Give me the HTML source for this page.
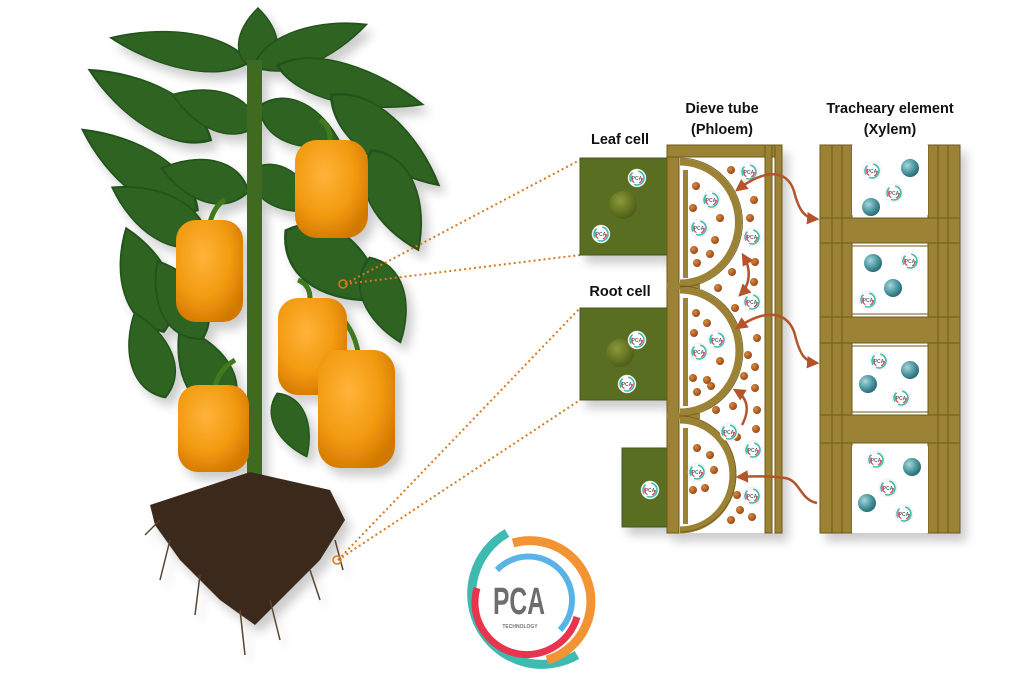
<!DOCTYPE html>
<html><head><meta charset="utf-8"><style>
body{margin:0;background:#fff}
svg{display:block}
text{font-family:"Liberation Sans",sans-serif}
</style></head><body>
<svg width="1024" height="683" viewBox="0 0 1024 683" xmlns="http://www.w3.org/2000/svg">
<defs>
<radialGradient id="pep" cx="40%" cy="35%" r="70%"><stop offset="0" stop-color="#ffb43a"/><stop offset="0.6" stop-color="#f29a10"/><stop offset="1" stop-color="#d17800"/></radialGradient>
<radialGradient id="sph" cx="35%" cy="35%" r="65%"><stop offset="0" stop-color="#a8d6da"/><stop offset="0.6" stop-color="#4f9aa3"/><stop offset="1" stop-color="#2f6e77"/></radialGradient>
<radialGradient id="dot" cx="35%" cy="35%" r="65%"><stop offset="0" stop-color="#d98a45"/><stop offset="1" stop-color="#9a4a12"/></radialGradient>
<radialGradient id="nuc" cx="40%" cy="35%" r="65%"><stop offset="0" stop-color="#8a9a3a"/><stop offset="1" stop-color="#4e5e16"/></radialGradient>
<path id="lf" d="M-1,0 C-0.6,-1.1 0.3,-0.9 1,0 C0.3,0.9 -0.6,1.1 -1,0z"/>
<g id="badge"><circle r="9" fill="#fff" stroke="#ddd" stroke-width="0.5"/><circle r="7" fill="none" stroke="#3fbab0" stroke-width="1.6" stroke-dasharray="14 4 10 6"/><circle r="5.3" fill="none" stroke="#e8384f" stroke-width="1.2" stroke-dasharray="6 5 8 20"/><text x="0" y="2" font-size="5" text-anchor="middle" fill="#666" font-weight="bold">PCA</text></g>
<marker id="ah" viewBox="0 0 10 10" refX="8" refY="5" markerWidth="5" markerHeight="5" orient="auto-start-reverse"><path d="M0,0 L10,5 L0,10 z" fill="#b5542a"/></marker>
<filter id="sh" x="-20%" y="-20%" width="140%" height="140%"><feGaussianBlur in="SourceAlpha" stdDeviation="5"/><feOffset dx="6" dy="8"/><feComponentTransfer><feFuncA type="linear" slope="0.2"/></feComponentTransfer><feMerge><feMergeNode/><feMergeNode in="SourceGraphic"/></feMerge></filter>
</defs>

<g filter="url(#sh)">
<g fill="#2d6320" stroke="#24521a" stroke-width="0.05">
<use href="#lf" transform="translate(180 50) rotate(-170) scale(70 24)"/>
<use href="#lf" transform="translate(150 105) rotate(-150) scale(70 28)"/>
<use href="#lf" transform="translate(140 170) rotate(-145) scale(70 30)"/>
<use href="#lf" transform="translate(160 215) rotate(-150) scale(55 30)"/>
<use href="#lf" transform="translate(145 280) rotate(-110) scale(55 32)"/>
<use href="#lf" transform="translate(150 355) rotate(-110) scale(45 28)"/>
<use href="#lf" transform="translate(205 370) rotate(-120) scale(50 32)"/>
<use href="#lf" transform="translate(258 40) rotate(-90) scale(32 26)"/>
<use href="#lf" transform="translate(310 45) rotate(-20) scale(60 24)"/>
<use href="#lf" transform="translate(350 85) rotate(15) scale(75 26)"/>
<use href="#lf" transform="translate(385 140) rotate(40) scale(70 30)"/>
<use href="#lf" transform="translate(395 200) rotate(65) scale(55 32)"/>
<use href="#lf" transform="translate(335 265) rotate(35) scale(60 40)"/>
<use href="#lf" transform="translate(385 300) rotate(70) scale(45 28)"/>
<use href="#lf" transform="translate(292 425) rotate(65) scale(35 22)"/>
<use href="#lf" transform="translate(215 110) rotate(-160) scale(45 26)"/>
<use href="#lf" transform="translate(300 125) rotate(25) scale(45 28)"/>
<use href="#lf" transform="translate(205 180) rotate(-165) scale(45 28)"/>
<use href="#lf" transform="translate(285 190) rotate(30) scale(40 26)"/>
<use href="#lf" transform="translate(180 300) rotate(-120) scale(45 30)"/>
</g>
<rect x="247" y="60" width="15" height="415" fill="#3f6b20"/>
<path d="M150,505 L250,472 L330,490 L345,520 L320,560 L290,590 L255,625 L220,600 L180,560 L155,525 z" fill="#3b2a1a"/>
<path d="M170,540 l-10,40 M200,575 l-5,40 M240,610 l5,45 M270,600 l10,40 M310,570 l10,30 M335,540 l8,30 M160,520 l-15,15" stroke="#5a4530" stroke-width="1.5" fill="none"/>
<g stroke="#3f7a1f" stroke-width="5" fill="none"><path d="M330,140 Q330,125 320,120"/><path d="M210,222 Q215,205 225,200"/><path d="M310,298 Q310,285 298,280"/><path d="M215,388 Q218,370 235,360"/><path d="M358,352 Q355,335 345,322"/></g>
<g fill="url(#pep)">
<rect x="295" y="140" width="73" height="98" rx="22"/>
<rect x="176" y="220" width="67" height="102" rx="20"/>
<rect x="278" y="298" width="69" height="97" rx="20"/>
<rect x="178" y="385" width="71" height="87" rx="20"/>
<rect x="318" y="350" width="77" height="118" rx="22"/>
</g>
</g>

<g stroke="#d9781c" stroke-width="2" stroke-dasharray="2 3" fill="none">
<line x1="345" y1="284" x2="580" y2="160"/>
<line x1="345" y1="284" x2="580" y2="255"/>
<line x1="338" y1="560" x2="580" y2="308"/>
<line x1="338" y1="560" x2="580" y2="400"/>
</g>
<circle cx="343" cy="284" r="4" fill="none" stroke="#d9781c" stroke-width="1.5"/>
<circle cx="337" cy="560" r="4" fill="none" stroke="#d9781c" stroke-width="1.5"/>

<g font-weight="bold" font-size="14.5" fill="#111" text-anchor="middle">
<text x="620" y="144">Leaf cell</text>
<text x="620" y="296">Root cell</text>
<text x="722" y="113">Dieve tube</text>
<text x="722" y="134">(Phloem)</text>
<text x="890" y="113">Tracheary element</text>
<text x="890" y="134">(Xylem)</text>
</g>

<g filter="url(#sh)">
<g fill="#5a6e20" stroke="#46571a" stroke-width="1">
<rect x="580" y="158" width="87" height="97"/>
<rect x="580" y="308" width="87" height="92"/>
<rect x="622" y="448" width="45" height="79"/>
</g>
<circle cx="623" cy="205" r="14" fill="url(#nuc)"/>
<circle cx="620" cy="353" r="14" fill="url(#nuc)"/>

<rect x="667" y="145" width="115" height="388" fill="#fff"/>
<g fill="#9b8236" stroke="#6e5a1e" stroke-width="1">
<rect x="667" y="145" width="12" height="388"/>
<rect x="667" y="145" width="115" height="12"/>
<rect x="765" y="145" width="7" height="388"/>
<rect x="775" y="145" width="7" height="388"/>
</g>
<g fill="none" stroke="#9b8236" stroke-width="7">
<path d="M680,162 A58,60 0 0 1 680,283"/>
<path d="M680,290 A58,60 0 0 1 680,412"/>
<path d="M680,420 A52,54 0 0 1 680,530"/>
<path d="M667,286 H700 M667,416 H700" stroke-width="6"/>
</g>
<g fill="none" stroke="#6e5a1e" stroke-width="0.8">
<path d="M680,158 A62,64 0 0 1 680,287"/>
<path d="M680,286 A62,64 0 0 1 680,416"/>
<path d="M680,416 A56,58 0 0 1 680,532"/>
</g>
<rect x="683" y="170" width="5" height="108" fill="#9b8236"/>
<rect x="683" y="298" width="5" height="108" fill="#9b8236"/>
<rect x="683" y="428" width="5" height="96" fill="#9b8236"/>

<rect x="820" y="145" width="140" height="388" fill="#fff"/>
<g fill="#9b8236" stroke="#6e5a1e" stroke-width="1">
<rect x="820" y="145" width="32" height="388"/>
<rect x="928" y="145" width="32" height="388"/>
<rect x="820" y="218" width="140" height="25"/>
<rect x="820" y="317" width="140" height="26"/>
<rect x="820" y="415" width="140" height="28"/>
</g>
<g fill="#fff" stroke="#6e5a1e" stroke-width="1">
<rect x="852" y="145" width="76" height="70" stroke="none"/>
<rect x="852" y="246" width="76" height="68"/>
<rect x="852" y="346" width="76" height="66"/>
<rect x="852" y="446" width="76" height="87" stroke="none"/>
</g>
<g stroke="#6e5a1e" stroke-width="1"><line x1="832" y1="145" x2="832" y2="533"/><line x1="842" y1="145" x2="842" y2="533"/><line x1="938" y1="145" x2="938" y2="533"/><line x1="948" y1="145" x2="948" y2="533"/></g>
</g>

<g fill="url(#dot)">
<circle cx="731" cy="170" r="4"/><circle cx="696" cy="186" r="4"/><circle cx="754" cy="200" r="4"/><circle cx="693" cy="208" r="4"/><circle cx="720" cy="218" r="4"/><circle cx="750" cy="218" r="4"/><circle cx="715" cy="240" r="4"/><circle cx="694" cy="250" r="4"/><circle cx="710" cy="254" r="4"/><circle cx="697" cy="263" r="4"/><circle cx="755" cy="262" r="4"/><circle cx="732" cy="272" r="4"/><circle cx="754" cy="282" r="4"/><circle cx="718" cy="288" r="4"/><circle cx="735" cy="308" r="4"/><circle cx="696" cy="313" r="4"/><circle cx="707" cy="323" r="4"/><circle cx="694" cy="333" r="4"/><circle cx="757" cy="338" r="4"/><circle cx="748" cy="355" r="4"/><circle cx="720" cy="361" r="4"/><circle cx="755" cy="367" r="4"/><circle cx="693" cy="378" r="4"/><circle cx="707" cy="380" r="4"/><circle cx="744" cy="376" r="4"/><circle cx="697" cy="392" r="4"/><circle cx="711" cy="386" r="4"/><circle cx="755" cy="388" r="4"/><circle cx="733" cy="406" r="4"/><circle cx="716" cy="410" r="4"/><circle cx="757" cy="410" r="4"/><circle cx="756" cy="429" r="4"/><circle cx="737" cy="437" r="4"/><circle cx="697" cy="448" r="4"/><circle cx="710" cy="455" r="4"/><circle cx="714" cy="470" r="4"/><circle cx="693" cy="490" r="4"/><circle cx="705" cy="488" r="4"/><circle cx="737" cy="495" r="4"/><circle cx="740" cy="510" r="4"/><circle cx="731" cy="520" r="4"/><circle cx="752" cy="517" r="4"/>
</g>
<g fill="url(#sph)">
<circle cx="910" cy="168" r="9"/><circle cx="871" cy="207" r="9"/><circle cx="873" cy="263" r="9"/><circle cx="893" cy="288" r="9"/><circle cx="910" cy="370" r="9"/><circle cx="868" cy="384" r="9"/><circle cx="912" cy="467" r="9"/><circle cx="867" cy="503" r="9"/>
</g>
<g>
<use href="#badge" x="637" y="178"/><use href="#badge" x="601" y="234"/><use href="#badge" x="637" y="340"/><use href="#badge" x="627" y="384"/><use href="#badge" x="650" y="490"/>
<use href="#badge" x="749" y="172"/><use href="#badge" x="711" y="200"/><use href="#badge" x="699" y="228"/><use href="#badge" x="752" y="237"/><use href="#badge" x="752" y="302"/><use href="#badge" x="717" y="340"/><use href="#badge" x="699" y="352"/><use href="#badge" x="729" y="432"/><use href="#badge" x="753" y="450"/><use href="#badge" x="697" y="472"/><use href="#badge" x="752" y="496"/>
<use href="#badge" x="872" y="171"/><use href="#badge" x="894" y="193"/><use href="#badge" x="910" y="261"/><use href="#badge" x="868" y="300"/><use href="#badge" x="879" y="361"/><use href="#badge" x="901" y="398"/><use href="#badge" x="876" y="460"/><use href="#badge" x="888" y="488"/><use href="#badge" x="904" y="514"/>
</g>
<g fill="none" stroke="#b5542a" stroke-width="2.5" marker-end="url(#ah)" marker-start="url(#ah)">
<path d="M737,190 C770,165 790,172 795,195 C800,212 805,218 817,219"/>
<path d="M737,328 C770,305 790,315 795,335 C800,355 805,362 817,363"/>
<path d="M743,255 C752,270 750,285 740,295"/>
</g>
<g fill="none" stroke="#b5542a" stroke-width="2.5" marker-end="url(#ah)">
<path d="M817,503 C800,500 800,480 785,478 C770,476 755,476 738,477"/>
<path d="M742,425 C750,410 748,398 735,390"/>
</g>

<g fill="none" stroke-width="9">
<path d="M507,533 A66,66 0 1 0 577,655" stroke="#3fbab0"/>
<path d="M513,543 A57,57 0 0 1 547,660" stroke="#f39434"/>
<path d="M497,570 A38,38 0 0 1 560,630" stroke="#5ab3e6" stroke-width="6"/>
<path d="M477,588 A48,48 0 0 0 577,617" stroke="#e8344e" stroke-width="7"/>
</g>
<text x="519" y="614" text-anchor="middle" font-size="38" font-weight="bold" fill="#6d6d6d" textLength="52" lengthAdjust="spacingAndGlyphs">PCA</text>
<text x="520" y="628" text-anchor="middle" font-size="5" font-weight="bold" fill="#777">TECHNOLOGY</text>
</svg>
</body></html>
